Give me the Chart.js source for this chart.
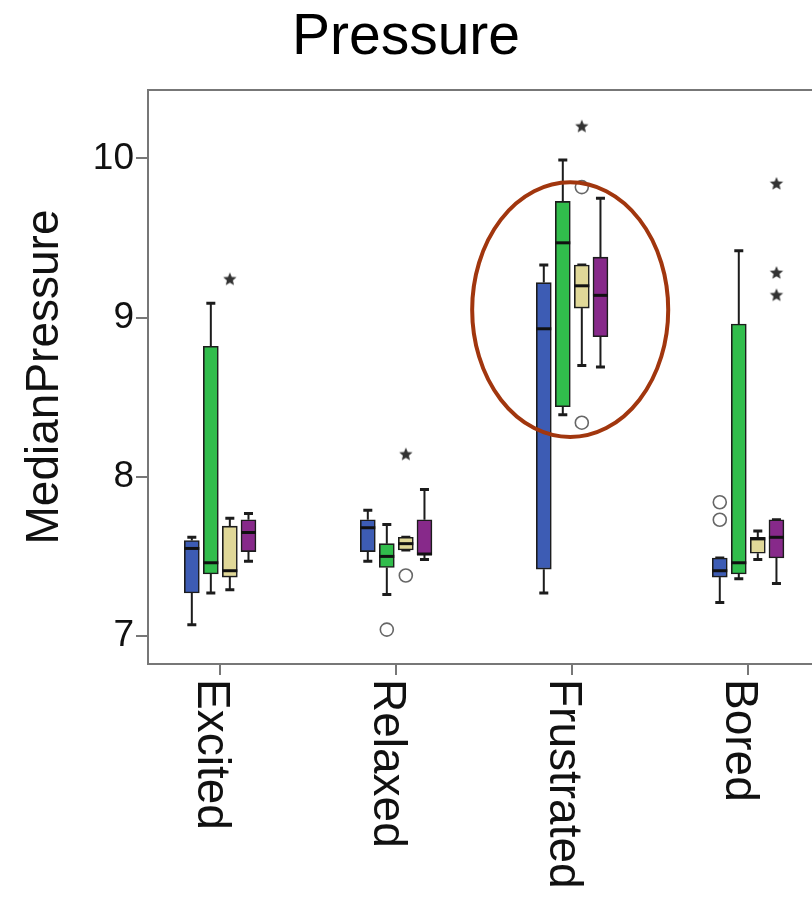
<!DOCTYPE html>
<html>
<head>
<meta charset="utf-8">
<script src="https://cdn.jsdelivr.net/npm/chart.js@4/dist/chart.umd.min.js"></script>
<style>
  body { margin: 0; background: #fff; overflow: hidden; }
  canvas { display: block; }
</style>
</head>
<body>
<canvas id="chart" width="812" height="897"></canvas>
<script>
// data
const categories = ["Excited", "Relaxed", "Frustrated", "Bored"];
const yTicks = [7, 8, 9, 10];

// each entry: [whisker low, q1, median, q3, whisker high], one per category
const blueStats   = [[7.07, 7.27, 7.55, 7.60, 7.62], [7.47, 7.53, 7.68, 7.73, 7.79], [7.27, 7.42, 8.93, 9.22, 9.33], [7.21, 7.37, 7.41, 7.49, 7.49]];
const greenStats  = [[7.27, 7.39, 7.46, 8.82, 9.09], [7.26, 7.43, 7.50, 7.58, 7.70], [8.39, 8.44, 9.47, 9.73, 9.99], [7.36, 7.39, 7.46, 8.96, 9.42]];
const tanStats    = [[7.29, 7.37, 7.41, 7.69, 7.74], [7.54, 7.54, 7.58, 7.62, 7.62], [8.70, 9.06, 9.20, 9.33, 9.33], [7.48, 7.52, 7.61, 7.62, 7.66]];
const purpleStats = [[7.47, 7.53, 7.65, 7.73, 7.77], [7.48, 7.51, 7.515, 7.73, 7.92], [8.69, 8.88, 9.14, 9.38, 9.75], [7.33, 7.49, 7.62, 7.73, 7.73]];

// outliers: [group index, category index, value]
const circleOutliers = [[1, 1, 7.04], [2, 1, 7.38], [2, 2, 9.82], [2, 2, 8.34], [0, 3, 7.84], [0, 3, 7.73]];
const starOutliers = [[2, 0, 9.24], [2, 1, 8.14], [2, 2, 10.20], [3, 3, 9.84], [3, 3, 9.28], [3, 3, 9.14]];

const groupStats = [blueStats, greenStats, tanStats, purpleStats];
const groupColors = ["#3d5cb4", "#31bd4c", "#e0d898", "#87298a"];
const groupOffset = [-0.16, -0.052, 0.056, 0.162];
const highlight = { x: 2.99, y: 9.05, rx: 0.557, ry: 0.80 };

const FONT = "'Liberation Sans', Arial, Helvetica, sans-serif";
const AXIS_COLOR = "#777";
const BOX_W = 15;

// small filled star used for extreme outliers
function makeStar(r, color) {
    const c = document.createElement("canvas");
    c.width = c.height = r * 2 + 2;
    const g = c.getContext("2d");
    g.fillStyle = color;
    g.beginPath();
    for (let k = 0; k < 10; k++) {
        const rad = k % 2 === 0 ? r : r * 0.45;
        const a = -Math.PI / 2 + k * Math.PI / 5;
        const px = r + 1 + rad * Math.cos(a), py = r + 1 + rad * Math.sin(a);
        if (k === 0) g.moveTo(px, py); else g.lineTo(px, py);
    }
    g.closePath();
    g.fill();
    return c;
}

const boxDatasets = groupStats.map((stats, g) => ({
    type: "bar",
    data: stats.map((s, i) => ({ x: i + 1 + groupOffset[g], y: [s[1], s[3]] })),
    backgroundColor: groupColors[g],
    borderColor: "#1c1c1c",
    borderWidth: 1.6,
    borderSkipped: false,
    barThickness: BOX_W,
    grouped: false,
    order: 2
}));

const toPoints = list => list.map(o => ({ x: o[1] + 1 + groupOffset[o[0]], y: o[2] }));

const outlierDatasets = [
    {
        type: "scatter",
        data: toPoints(circleOutliers),
        pointStyle: "circle",
        pointRadius: 6.5,
        backgroundColor: "#fff",
        borderColor: "#666",
        borderWidth: 1.6,
        order: 1
    },
    {
        type: "scatter",
        data: toPoints(starOutliers),
        pointStyle: makeStar(7, "#333"),
        pointRadius: 7,
        order: 1
    }
];

// whiskers, medians, rotated category labels, frame top and the highlight ring
const boxPlotPlugin = {
    id: "boxPlot",
    beforeDatasetsDraw(chart) {
        const { ctx, scales: { x, y } } = chart;
        ctx.save();
        ctx.strokeStyle = "#1c1c1c";
        groupStats.forEach((stats, g) => {
            stats.forEach((s, i) => {
                const px = x.getPixelForValue(i + 1 + groupOffset[g]);
                ctx.lineWidth = 2;
                ctx.beginPath();
                ctx.moveTo(px, y.getPixelForValue(s[0]));
                ctx.lineTo(px, y.getPixelForValue(s[1]));
                ctx.moveTo(px, y.getPixelForValue(s[3]));
                ctx.lineTo(px, y.getPixelForValue(s[4]));
                ctx.stroke();
                ctx.lineWidth = 3;
                ctx.beginPath();
                [s[0], s[4]].forEach(v => {
                    const py = y.getPixelForValue(v);
                    ctx.moveTo(px - 4.5, py);
                    ctx.lineTo(px + 4.5, py);
                });
                ctx.stroke();
            });
        });
        ctx.restore();
    },
    afterDatasetsDraw(chart) {
        const { ctx, scales: { x, y } } = chart;
        ctx.save();
        ctx.strokeStyle = "#111";
        ctx.lineWidth = 3;
        groupStats.forEach((stats, g) => {
            stats.forEach((s, i) => {
                const px = x.getPixelForValue(i + 1 + groupOffset[g]);
                const py = y.getPixelForValue(s[2]);
                ctx.beginPath();
                ctx.moveTo(px - BOX_W / 2, py);
                ctx.lineTo(px + BOX_W / 2, py);
                ctx.stroke();
            });
        });
        ctx.restore();
    },
    afterDraw(chart) {
        const { ctx, chartArea, scales: { x, y } } = chart;
        ctx.save();
        // top frame line
        ctx.strokeStyle = AXIS_COLOR;
        ctx.lineWidth = 2;
        ctx.beginPath();
        ctx.moveTo(chartArea.left, chartArea.top);
        ctx.lineTo(chartArea.right, chartArea.top);
        ctx.stroke();

        // category labels, reading downwards
        ctx.fillStyle = "#111";
        ctx.font = "46px " + FONT;
        ctx.textAlign = "left";
        ctx.textBaseline = "middle";
        categories.forEach((c, i) => {
            const px = x.getPixelForValue(i + 1);
            ctx.save();
            ctx.translate(px - 9, chartArea.bottom + 15);
            ctx.rotate(Math.PI / 2);
            ctx.fillText(c, 0, 0);
            ctx.restore();
        });

        // highlight ring
        const cx = x.getPixelForValue(highlight.x);
        const cy = y.getPixelForValue(highlight.y);
        const rx = x.getPixelForValue(highlight.x + highlight.rx) - cx;
        const ry = cy - y.getPixelForValue(highlight.y + highlight.ry);
        ctx.strokeStyle = "#a1360e";
        ctx.lineWidth = 4;
        ctx.beginPath();
        ctx.ellipse(cx, cy, rx, ry, 0, 0, Math.PI * 2);
        ctx.stroke();
        ctx.restore();
    }
};

new Chart(document.getElementById("chart"), {
    type: "bar",
    data: { datasets: [...boxDatasets, ...outlierDatasets] },
    options: {
        responsive: false,
        animation: false,
        devicePixelRatio: 1,
        layout: { padding: 0, autoPadding: false },
        plugins: {
            legend: { display: false },
            tooltip: { enabled: false },
            title: {
                display: true,
                text: "Pressure",
                color: "#000",
                font: { family: FONT, size: 57, weight: "normal", lineHeight: 1 },
                padding: { top: 10, bottom: 23 }
            }
        },
        scales: {
            x: {
                type: "linear",
                offset: false,
                min: 0.591,
                max: 4.364,
                afterBuildTicks: s => { s.ticks = categories.map((c, i) => ({ value: i + 1 })); },
                afterFit: s => { s.height = 233; },
                ticks: { display: false },
                grid: { offset: false, drawOnChartArea: false, drawTicks: true, tickLength: 11, color: AXIS_COLOR, lineWidth: 2 },
                border: { display: true, color: AXIS_COLOR, width: 2 }
            },
            y: {
                type: "linear",
                min: 6.824,
                max: 10.43,
                afterBuildTicks: s => { s.ticks = yTicks.map(v => ({ value: v })); },
                afterFit: s => { s.width = 148; },
                ticks: {
                    color: "#111",
                    padding: 2,
                    font: { family: FONT, size: 37 },
                    callback: v => String(v)
                },
                grid: { drawOnChartArea: false, drawTicks: true, tickLength: 12, color: AXIS_COLOR, lineWidth: 2 },
                border: { display: true, color: AXIS_COLOR, width: 2 },
                title: {
                    display: true,
                    text: "MedianPressure",
                    color: "#111",
                    font: { family: FONT, size: 46, lineHeight: 1 },
                    padding: { top: 22, bottom: 0 }
                }
            }
        }
    },
    plugins: [boxPlotPlugin]
});
</script>
</body>
</html>
